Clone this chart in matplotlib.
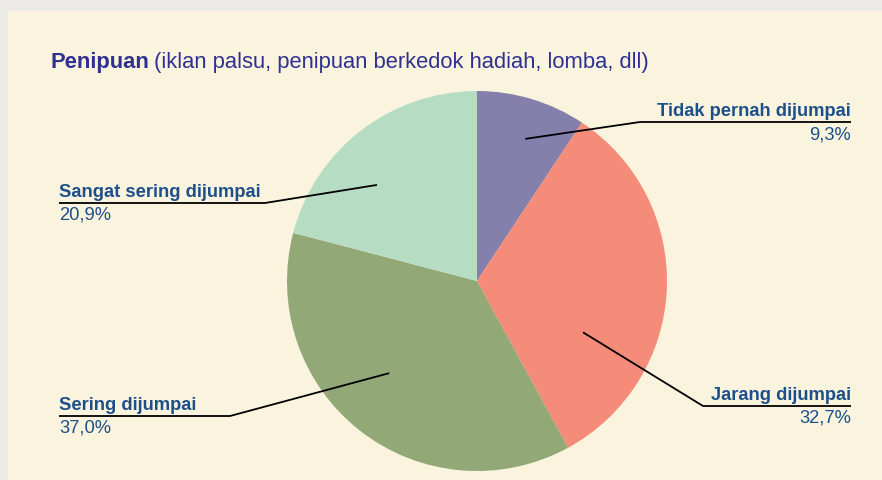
import numpy as np
import matplotlib
matplotlib.use("Agg")
import matplotlib.pyplot as plt
from matplotlib.patches import Rectangle

# data
labels = ["Tidak pernah dijumpai", "Jarang dijumpai", "Sering dijumpai", "Sangat sering dijumpai"]
values = [9.3, 32.7, 37.0, 20.9]
pct_text = ["9,3%", "32,7%", "37,0%", "20,9%"]
colors = ["#8580ab", "#f58b79", "#93a877", "#b6dcc3"]

W, H = 882, 481
fig = plt.figure(figsize=(W / 100, H / 100), dpi=100, facecolor="#ecebe8")
ax = fig.add_axes([0, 0, 1, 1])
ax.set_xlim(0, W)
ax.set_ylim(0, H)
ax.set_aspect("equal")
ax.axis("off")

# cream panel
ax.add_patch(Rectangle((8, 0), W - 8, H - 12, facecolor="#faf4de", edgecolor="none", zorder=0))

cx, cy, r = 477, H - 282, 190
wedges, _ = ax.pie(values, colors=colors, startangle=90, counterclock=False,
                   center=(cx, cy), radius=r, wedgeprops=dict(linewidth=0))
ax.set_xlim(0, W)
ax.set_ylim(0, H)

title_col = "#2e3192"
fam = ["Liberation Sans", "DejaVu Sans"]
t = ax.text(50, H - 68, "Penipuan", fontsize=15.8, fontweight="bold", color=title_col,
            family=fam, va="baseline")
fig.canvas.draw()
bb = t.get_window_extent()
ax.text(bb.x1 + 5, H - 68, "(iklan palsu, penipuan berkedok hadiah, lomba, dll)", fontsize=15.8,
        color=title_col, family=fam, va="baseline")

# label layout: (text x, underline y, line x end, side, anchor angle offset, anchor radius frac)
lab_col = "#1d4f8b"
layout = [
    (851, 123, 640, "right", 2.0, 0.79),
    (851, 407, 703, "right", 23.4, 0.62),
    (59, 417, 230, "left", 5.6, 0.67),
    (59, 204, 265, "left", -8.5, 0.73),
]
for w, lab, pc, (tx, uy, lx, side, doff, rf) in zip(wedges, labels, pct_text, layout):
    mid = 0.5 * (w.theta1 + w.theta2)
    # clockwise pie: offset in screen-clockwise direction
    ang = np.deg2rad(mid - doff)
    px, py = cx + rf * r * np.cos(ang), cy + rf * r * np.sin(ang)
    ax.plot([tx, lx, px], [H - uy, H - uy, py], color="black", lw=1.3, zorder=5,
            solid_capstyle="butt")
    ax.text(tx, H - uy + 3, lab, fontsize=13.2, fontweight="bold", color=lab_col,
            family=fam, ha=side, va="bottom")
    ax.text(tx, H - uy - 3, pc, fontsize=13.2, color=lab_col,
            family=fam, ha=side, va="top")

fig.savefig("out.png", dpi=100, facecolor=fig.get_facecolor())
